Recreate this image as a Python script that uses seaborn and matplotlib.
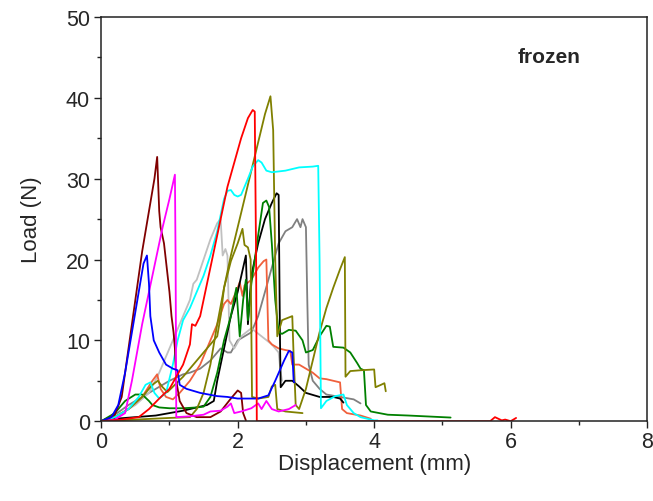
import matplotlib
matplotlib.use("Agg")
import matplotlib.pyplot as plt
import seaborn as sns
import pandas as pd
from matplotlib.ticker import MultipleLocator

sns.set_theme(style="ticks")
plt.rcParams['font.family'] = ['Liberation Sans', 'DejaVu Sans']

# Load–displacement curves of frozen specimens: (displacement mm, load N)
gray_x = [0, 0.2, 0.4, 0.6, 0.8, 1.0, 1.2, 1.3, 1.45, 1.6, 1.75, 1.85, 1.9, 2.0, 2.1, 2.2, 2.3, 2.4, 2.5, 2.6, 2.7, 2.8, 2.87, 2.92, 2.95, 3.0, 3.02, 3.04, 3.1, 3.2, 3.3, 3.5, 3.7, 3.8]
gray_y = [0, 0.8, 2, 3, 4, 5, 5.8, 6, 6.5, 7.5, 9, 8.5, 8.5, 10, 10.5, 11, 13, 16, 19, 22, 23.5, 24, 25, 24, 25, 24, 15, 7, 5, 4, 3.3, 3.0, 2.7, 2.2]

silver_x = [0, 0.3, 0.5, 0.7, 0.85, 1.0, 1.1, 1.2, 1.3, 1.35, 1.4, 1.5, 1.6, 1.7, 1.75, 1.78, 1.82, 1.85, 1.88, 1.95, 2.05, 2.2, 2.35, 2.5, 2.6, 2.63, 2.65]
silver_y = [0, 1, 2, 3.5, 6, 9, 11, 13, 15, 17, 17.5, 20, 22.5, 24.5, 25, 20.5, 21.3, 20.5, 10, 9, 10.5, 11.5, 10.5, 9.5, 8.5, 6, 5]

salmon_x = [0, 0.2, 0.4, 0.6, 0.75, 0.82, 0.87, 0.95, 1.05, 1.15, 1.3, 1.45, 1.6, 1.7, 1.8, 1.85, 1.9, 1.95, 2.0, 2.03, 2.07, 2.1, 2.2, 2.3, 2.38, 2.42, 2.45, 2.5, 2.6, 2.7, 2.77, 2.8, 2.9, 3.0, 3.1, 3.2, 3.3, 3.5, 3.53, 3.6, 3.8, 3.95]
salmon_y = [0, 0.5, 1.5, 3, 5, 5.8, 4, 3, 2.7, 3.5, 5, 7, 10, 12, 14.5, 15, 14.5, 15.5, 16.5, 17.2, 15.5, 16.8, 17.5, 19, 19.8, 20, 10, 9.5, 9, 8.8, 8.7, 7, 7, 6.5, 6, 5.3, 5.2, 4.8, 1.5, 1.0, 0.7, 0.3]

black_x = [0, 0.2, 0.5, 0.8, 1.0, 1.2, 1.4, 1.55, 1.65, 1.7, 1.8, 1.9, 2.0, 2.08, 2.12, 2.15, 2.2, 2.3, 2.4, 2.5, 2.57, 2.6, 2.62, 2.63, 2.7, 2.8, 2.9, 3.0, 3.2, 3.4, 3.5, 3.55]
black_y = [0, 0.3, 0.5, 0.7, 1.0, 1.3, 1.7, 2.0, 2.5, 5, 9, 13, 16, 19, 20.5, 12, 18, 22, 25, 27, 28.2, 28, 10, 4.2, 5, 5, 4.3, 3.5, 3, 3, 2.8, 2.3]

green_x = [0, 0.2, 0.35, 0.5, 0.6, 0.7, 0.75, 0.85, 1.0, 1.2, 1.4, 1.5, 1.6, 1.7, 1.8, 1.9, 1.98, 2.03, 2.08, 2.12, 2.15, 2.2, 2.3, 2.37, 2.42, 2.46, 2.5, 2.55, 2.6, 2.65, 2.75, 2.85, 2.95, 3.0, 3.1, 3.2, 3.3, 3.35, 3.4, 3.55, 3.65, 3.75, 3.8, 3.85, 3.88, 3.95, 4.2, 4.5, 5.12]
green_y = [0, 1, 2.5, 3.3, 3.3, 2.5, 2.0, 1.7, 1.6, 1.6, 1.7, 1.8, 3, 6, 10, 13, 16.5, 10.5, 15, 17.5, 12.5, 17, 23, 27, 27.3, 26.5, 22, 15, 11, 10.8, 11.3, 11.2, 10, 8.5, 8.8, 10.5, 11.8, 11.7, 9.2, 9.1, 8.5, 7.2, 6.5, 6.3, 2.0, 1.2, 0.8, 0.7, 0.45]

oliveA_x = [0, 0.2, 0.4, 0.6, 0.75, 0.83, 0.9, 0.97, 1.2, 1.4, 1.6, 1.7, 1.75, 1.8, 1.9, 2.0, 2.07, 2.1, 2.15, 2.19, 2.21, 2.3, 2.45, 2.5, 2.55, 2.58, 2.7, 2.95]
oliveA_y = [0, 0.5, 1.5, 3, 4.5, 5, 4.2, 3.6, 5.5, 7.5, 9.5, 10.5, 13, 16.5, 19.8, 22, 23.8, 21.8, 21.5, 20, 3, 2.8, 3, 4.3, 4.5, 1.5, 1.2, 1.0]

oliveB_x = [0, 0.5, 1.0, 1.3, 1.4, 1.5, 1.6, 1.7, 1.8, 1.9, 2.0, 2.1, 2.2, 2.3, 2.4, 2.48, 2.52, 2.55, 2.58, 2.65, 2.8, 2.82, 2.85, 2.9, 3.0, 3.1, 3.2, 3.3, 3.4, 3.5, 3.57, 3.58, 3.65, 3.8, 4.0, 4.02, 4.1, 4.15, 4.17]
oliveB_y = [0, 0.2, 0.4, 0.5, 1.5, 3.5, 7, 12, 16.5, 20.5, 24, 27.5, 31, 34.5, 38, 40.2, 36, 20, 10.5, 12.5, 13, 8, 2, 1.5, 4, 7.5, 11, 14, 16.5, 18.8, 20.3, 5.5, 6.2, 6.3, 6.4, 4.2, 4.5, 4.7, 3.7]

cyan_x = [0, 0.2, 0.4, 0.55, 0.65, 0.72, 0.78, 0.85, 0.95, 1.05, 1.12, 1.2, 1.3, 1.4, 1.5, 1.6, 1.7, 1.75, 1.8, 1.85, 1.9, 1.95, 2.0, 2.05, 2.15, 2.22, 2.3, 2.35, 2.42, 2.5, 2.7, 2.9, 3.1, 3.18, 3.2, 3.22, 3.3, 3.43, 3.55, 3.6, 3.7, 3.8, 3.9, 4.0, 4.05]
cyan_y = [0, 0.5, 1.5, 3, 4.5, 4.8, 3.5, 2.8, 3.5, 7, 10, 12.5, 14, 16, 18, 20.5, 23.5, 25.5, 27.5, 28.5, 28.6, 28.0, 27.8, 28.0, 30, 31.5, 32.3, 32, 31, 30.8, 31, 31.4, 31.5, 31.6, 20, 1.6, 2.5, 3.1, 3.3, 2.0, 1.0, 0.5, 0.3, 0.1, 0.1]

brown_x = [0, 0.1, 0.2, 0.3, 0.4, 0.5, 0.6, 0.7, 0.78, 0.82, 0.85, 0.87, 0.92, 0.96, 1.0, 1.03, 1.06, 1.08, 1.1, 1.15, 1.25, 1.4, 1.6, 1.75, 1.9, 2.0, 2.05, 2.08, 2.12]
brown_y = [0, 0.3, 0.8, 3, 9, 15, 21, 26, 30, 32.7, 26, 24, 22, 19, 16, 13, 11, 9, 5, 2.5, 1, 0.5, 0.5, 1.2, 2.8, 3.8, 3.5, 1, 0.1]

magenta_x = [0, 0.2, 0.35, 0.45, 0.6, 0.75, 0.9, 1.0, 1.08, 1.09, 1.1, 1.3, 1.5, 1.6, 1.75, 1.85, 1.9, 1.95, 2.05, 2.2, 2.3, 2.35, 2.42, 2.5, 2.6, 2.75, 2.85]
magenta_y = [0, 0.2, 1, 5, 12, 18, 24, 27.5, 30.5, 20, 0.5, 0.6, 0.8, 1.2, 1.3, 1.8, 2.2, 1.0, 1.2, 1.6, 2.2, 1.5, 2.5, 1.5, 1.2, 1.5, 2.0]

blue_x = [0, 0.15, 0.25, 0.35, 0.45, 0.55, 0.62, 0.67, 0.7, 0.72, 0.77, 0.85, 0.95, 1.05, 1.12, 1.15, 1.25, 1.45, 1.7, 1.85, 2.0, 2.3, 2.45, 2.55, 2.68, 2.75, 2.8, 2.82, 2.83]
blue_y = [0, 0.5, 2, 6, 11, 16, 19.5, 20.5, 17, 13, 10, 8.5, 7, 6.5, 6.3, 4.5, 4, 3.5, 3.1, 3.0, 2.8, 2.8, 3.2, 5, 7.5, 8.7, 8.5, 5, 4.8]

red_x = [0, 0.3, 0.55, 0.7, 0.85, 1.0, 1.1, 1.2, 1.3, 1.33, 1.38, 1.45, 1.55, 1.65, 1.75, 1.85, 1.95, 2.05, 2.15, 2.22, 2.25, 2.27, 2.28, 3.0, 5.7, 5.77, 5.82, 5.87, 5.92, 6.0, 6.08]
red_y = [0, 0.2, 0.5, 1.5, 2.8, 4, 5.5, 7, 9.5, 12, 11.8, 13, 17, 21, 25, 29, 32, 35, 37.5, 38.5, 38.3, 20, 0, 0, 0, 0.5, 0.3, 0.1, 0.2, 0.0, 0.4]

series = [
    (gray_x, gray_y, "#808080"),
    (silver_x, silver_y, "#C0C0C0"),
    (salmon_x, salmon_y, "#F0603C"),
    (black_x, black_y, "#000000"),
    (green_x, green_y, "#008000"),
    (oliveA_x, oliveA_y, "#808000"),
    (oliveB_x, oliveB_y, "#808000"),
    (cyan_x, cyan_y, "#00FFFF"),
    (brown_x, brown_y, "#800000"),
    (magenta_x, magenta_y, "#FF00FF"),
    (blue_x, blue_y, "#0000FF"),
    (red_x, red_y, "#FF0000"),
]

fig = plt.figure(figsize=(6.53, 5.02), dpi=100)
ax = fig.add_axes([0.155, 0.159, 0.836, 0.805])

for xs, ys, col in series:
    df = pd.DataFrame({"Displacement": xs, "Load": ys})
    sns.lineplot(data=df, x="Displacement", y="Load", sort=False,
                 estimator=None, color=col, linewidth=1.3, ax=ax)

ax.set_xlim(0, 8)
ax.set_ylim(0, 50)
ax.xaxis.set_major_locator(MultipleLocator(2))
ax.xaxis.set_minor_locator(MultipleLocator(1))
ax.yaxis.set_major_locator(MultipleLocator(10))
ax.yaxis.set_minor_locator(MultipleLocator(5))
ax.tick_params(which="major", direction="out", length=5, width=1, labelsize=15.5,
               top=False, right=False, color="#222222", pad=3)
ax.tick_params(axis="x", which="major", pad=2)
ax.tick_params(which="minor", direction="out", length=3, width=1,
               top=False, right=False, color="#222222")
for sp in ax.spines.values():
    sp.set_linewidth(1.1)
    sp.set_color("#222222")

ax.set_xlabel("Displacement (mm)", fontsize=16, labelpad=1)
ax.set_ylabel("Load (N)", fontsize=16, labelpad=17)
ax.text(0.762, 0.903, "frozen", transform=ax.transAxes, fontsize=15,
        fontweight="bold", ha="left", va="center")

fig.savefig("out.png", dpi=100)
